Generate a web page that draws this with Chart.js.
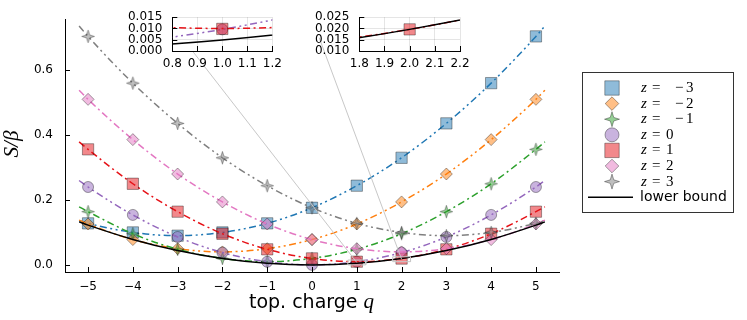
<!DOCTYPE html>
<html><head><meta charset="utf-8">
<script src="https://cdn.jsdelivr.net/npm/chart.js@4.4.1/dist/chart.umd.min.js"></script>
<style>
html,body{margin:0;padding:0;background:#fff;}
#wrap{position:relative;width:747px;height:320px;overflow:hidden;}
canvas{position:absolute;top:0;}
</style></head><body>
<div id="wrap">
<canvas id="main" width="747" height="320" style="left:0;width:747px;height:320px"></canvas>
<canvas id="inset1" width="190" height="80" style="left:100px;width:190px;height:80px"></canvas>
<canvas id="inset2" width="190" height="80" style="left:290px;width:190px;height:80px"></canvas>
</div>
<script>
// ---------------- data ----------------
const qValues = [-5, -4, -3, -2, -1, 0, 1, 2, 3, 4, 5];
const zValues = [-3, -2, -1, 0, 1, 2, 3];
const S_zm3 = [0.128, 0.100, 0.090, 0.100, 0.128, 0.176, 0.244, 0.330, 0.436, 0.560, 0.704];
const S_zm2 = [0.126, 0.078, 0.050, 0.040, 0.050, 0.078, 0.126, 0.194, 0.280, 0.386, 0.510];
const S_zm1 = [0.164, 0.096, 0.048, 0.020, 0.010, 0.020, 0.048, 0.096, 0.164, 0.250, 0.356];
const S_z0  = [0.240, 0.154, 0.086, 0.038, 0.0096, 0.000, 0.0096, 0.038, 0.086, 0.154, 0.240];
const S_z1  = [0.356, 0.250, 0.164, 0.096, 0.048, 0.020, 0.0098, 0.0196, 0.048, 0.096, 0.164];
const S_z2  = [0.510, 0.386, 0.280, 0.194, 0.126, 0.078, 0.050, 0.040, 0.050, 0.078, 0.126];
const S_z3  = [0.704, 0.560, 0.436, 0.330, 0.244, 0.176, 0.128, 0.100, 0.090, 0.100, 0.128];
// fitted curves: values at q = -5.2 ... 5.2
const curveQ = [-5.2, -5, -4, -3, -2, -1, 0, 1, 2, 3, 4, 5, 5.2];
const curveZm3 = [0.136, 0.128, 0.100, 0.090, 0.100, 0.128, 0.176, 0.244, 0.330, 0.436, 0.560, 0.704, 0.736];
const curveZm2 = [0.138, 0.126, 0.078, 0.050, 0.040, 0.050, 0.078, 0.126, 0.194, 0.280, 0.386, 0.510, 0.538];
const curveZm1 = [0.179, 0.164, 0.096, 0.048, 0.020, 0.010, 0.020, 0.048, 0.096, 0.164, 0.250, 0.356, 0.379];
const curveZ0  = [0.260, 0.240, 0.154, 0.086, 0.038, 0.0096, 0.000, 0.0096, 0.038, 0.086, 0.154, 0.240, 0.260];
const curveZ1  = [0.379, 0.356, 0.250, 0.164, 0.096, 0.048, 0.0196, 0.0100, 0.0196, 0.048, 0.096, 0.164, 0.179];
const curveZ2  = [0.538, 0.510, 0.386, 0.280, 0.194, 0.126, 0.078, 0.050, 0.040, 0.050, 0.078, 0.126, 0.138];
const curveZ3  = [0.736, 0.704, 0.560, 0.436, 0.330, 0.244, 0.176, 0.128, 0.100, 0.090, 0.100, 0.128, 0.136];
const lowerBound = [0.1325, 0.1225, 0.0784, 0.0441, 0.0196, 0.0049, 0.000, 0.0049, 0.0196, 0.0441, 0.0784, 0.1225, 0.1325];
// tick labels
const mainXTicks = [-5, -4, -3, -2, -1, 0, 1, 2, 3, 4, 5];
const mainXTickLabels = ['\u22125', '\u22124', '\u22123', '\u22122', '\u22121', '0', '1', '2', '3', '4', '5'];
const mainYTicks = [0, 0.2, 0.4, 0.6];
const mainYTickLabels = ['0.0', '0.2', '0.4', '0.6'];
const inset1XTicks = [0.8, 0.9, 1.0, 1.1, 1.2];
const inset1XTickLabels = ['0.8', '0.9', '1.0', '1.1', '1.2'];
const inset1YTicks = [0, 0.005, 0.010, 0.015];
const inset1YTickLabels = ['0.000', '0.005', '0.010', '0.015'];
const inset2XTicks = [1.8, 1.9, 2.0, 2.1, 2.2];
const inset2XTickLabels = ['1.8', '1.9', '2.0', '2.1', '2.2'];
const inset2YTicks = [0.010, 0.015, 0.020, 0.025];
const inset2YTickLabels = ['0.010', '0.015', '0.020', '0.025'];
// lens regions (zoomed windows) and connector targets
const lens1X = [0.8, 1.2], lens1Y = [0.0, 0.015];
const lens2X = [1.8, 2.2], lens2Y = [0.010, 0.025];
const connector1 = [[1.0, 0.0075], [-2.9, 0.70]];
const connector2 = [[2.0, 0.0175], [0.16, 0.70]];

// ---------------- styles ----------------
const seriesVals = [S_zm3, S_zm2, S_zm1, S_z0, S_z1, S_z2, S_z3];
const curveVals = [curveZm3, curveZm2, curveZm1, curveZ0, curveZ1, curveZ2, curveZ3];
const rgb = [[31,119,180],[255,127,14],[44,160,44],[148,103,189],[230,18,24],[227,119,194],[127,127,127]];
const shapes = ['square','diamond','star','circle','square','diamond','star'];
const DASHDOT = [7,3.5,2,3.5];
const DASHDOTDOT = [7,3.5,2,3.5,2,3.5];
const dashes = [DASHDOTDOT, DASHDOTDOT, DASHDOT, DASHDOTDOT, DASHDOT, DASHDOT, DASHDOTDOT];
const col = (c,a)=> a===undefined ? `rgb(${c[0]},${c[1]},${c[2]})` : `rgba(${c[0]},${c[1]},${c[2]},${a})`;
const FILL_A = 0.5, STROKE = 'rgba(0,0,0,0.35)';

function starPath(ctx, cx, cy, R, r){
  ctx.beginPath();
  for(let k=0;k<8;k++){
    const ang = -Math.PI/2 + k*Math.PI/4;
    const rad = (k%2===0) ? R : r;
    const px = cx + rad*Math.cos(ang), py = cy + rad*Math.sin(ang);
    if(k===0) ctx.moveTo(px,py); else ctx.lineTo(px,py);
  }
  ctx.closePath();
}
function makeStar(c, R, r){
  const cv = document.createElement('canvas');
  const s = Math.ceil(2*R+4); cv.width = s; cv.height = s;
  const x = cv.getContext('2d');
  starPath(x, s/2, s/2, R, r);
  x.fillStyle = col(c, FILL_A); x.fill();
  x.strokeStyle = STROKE; x.lineWidth = 1; x.stroke();
  return cv;
}
const starImgs = {2: makeStar(rgb[2], 6.3, 2.1), 6: makeStar(rgb[6], 6.3, 2.1)};
function pointOpts(i){
  const s = shapes[i];
  if(s==='square') return {pointStyle:'rect', pointRadius:8};
  if(s==='diamond') return {pointStyle:'rectRot', pointRadius:6};
  if(s==='circle') return {pointStyle:'circle', pointRadius:5.5};
  return {pointStyle: starImgs[i], pointRadius:6};
}

function buildDatasets(isMain){
  const ds = []; let ord = 1000;
  seriesVals.forEach((vals, i)=>{
    ds.push({
      data: curveQ.map((q,j)=>({x:q, y:curveVals[i][j]})),
      showLine:true, borderColor: col(rgb[i]), borderWidth:1.5, borderDash: dashes[i],
      pointRadius:0, cubicInterpolationMode:'monotone', fill:false, order: ord--
    });
    ds.push(Object.assign({
      data: qValues.map((q,j)=>({x:q, y:vals[j]})),
      showLine:false, pointBackgroundColor: col(rgb[i], FILL_A), pointBorderColor: STROKE,
      pointBorderWidth:1, order: ord--
    }, pointOpts(i)));
  });
  ds.push({
    data: curveQ.map((q,j)=>({x:q, y:lowerBound[j]})),
    showLine:true, borderColor:'#000', borderWidth:1.5, pointRadius:0,
    cubicInterpolationMode:'monotone', fill:false, order: ord--
  });
  if(isMain){
    [[lens1X,lens1Y],[lens2X,lens2Y]].forEach(([lx,ly])=>{
      ds.push({data:[{x:lx[0],y:ly[0]},{x:lx[0],y:ly[1]},{x:lx[1],y:ly[1]},{x:lx[1],y:ly[0]},{x:lx[0],y:ly[0]}],
        showLine:true, borderColor:'#c8c8c8', borderWidth:1, pointRadius:0, tension:0, fill:false, order: ord--});
    });
    [connector1, connector2].forEach(cn=>{
      ds.push({data: cn.map(p=>({x:p[0], y:p[1]})), showLine:true, borderColor:'#c8c8c8',
        borderWidth:1, pointRadius:0, tension:0, fill:false, order: ord--});
    });
  }
  return ds;
}

const TICKFONT = {family:'DejaVu Sans', size:12};

const bgPlugin = {
  id:'bg',
  beforeDraw(chart, args, opts){
    const ctx = chart.ctx, a = chart.chartArea;
    ctx.save(); ctx.fillStyle = '#fff';
    if(opts.full) ctx.fillRect(0,0,chart.width,chart.height);
    else ctx.fillRect(a.left, a.top, a.right-a.left, a.bottom-a.top);
    ctx.restore();
  }
};
const innerTicks = {
  id:'innerTicks',
  afterDraw(chart){
    const ctx = chart.ctx, a = chart.chartArea, L = 5;
    const xs = chart.scales.x, ys = chart.scales.y;
    ctx.save(); ctx.strokeStyle = '#000'; ctx.lineWidth = 1;
    ctx.beginPath();
    xs.ticks.forEach(t=>{ const p = Math.round(xs.getPixelForValue(t.value))+0.5; ctx.moveTo(p, a.bottom); ctx.lineTo(p, a.bottom-L); });
    ys.ticks.forEach(t=>{ const p = Math.round(ys.getPixelForValue(t.value))+0.5; ctx.moveTo(a.left, p); ctx.lineTo(a.left+L, p); });
    ctx.stroke(); ctx.restore();
  }
};

function drawMarker(ctx, i, x, y, scale){
  const s = shapes[i];
  ctx.save();
  ctx.fillStyle = col(rgb[i], FILL_A); ctx.strokeStyle = STROKE; ctx.lineWidth = 1;
  ctx.beginPath();
  if(s==='square'){ const h = 7.2*scale; ctx.rect(x-h, y-h, 2*h, 2*h); }
  else if(s==='diamond'){ const h = 6.8*scale; ctx.moveTo(x-h,y); ctx.lineTo(x,y-h); ctx.lineTo(x+h,y); ctx.lineTo(x,y+h); ctx.closePath(); }
  else if(s==='circle'){ ctx.arc(x, y, 7*scale, 0, Math.PI*2); }
  else { starPath(ctx, x, y, 7.5*scale, 2.5*scale); }
  ctx.fill(); ctx.stroke();
  ctx.restore();
}

const mainDecor = {
  id:'mainDecor',
  afterDraw(chart){
    const ctx = chart.ctx;
    ctx.save();
    // x title
    const t1 = 'top. charge ', t2 = 'q';
    ctx.textBaseline = 'alphabetic'; ctx.fillStyle = '#000';
    ctx.font = '19px "DejaVu Sans"'; const w1 = ctx.measureText(t1).width;
    ctx.font = 'italic 21px "Liberation Serif"'; const w2 = ctx.measureText(t2).width;
    const x0 = 311.5 - (w1+w2)/2;
    ctx.font = '19px "DejaVu Sans"'; ctx.fillText(t1, x0, 308);
    ctx.font = 'italic 21px "Liberation Serif"'; ctx.fillText(t2, x0+w1, 308);
    // y title
    ctx.save(); ctx.translate(18, 144); ctx.rotate(-Math.PI/2);
    ctx.font = 'italic 21px "Liberation Serif"'; ctx.textAlign = 'center';
    ctx.fillText('S/\u03B2', 0, 0);
    ctx.restore();
    // legend
    ctx.fillStyle = '#fff'; ctx.fillRect(582.5, 72.5, 151, 140);
    ctx.strokeStyle = '#333'; ctx.lineWidth = 1; ctx.strokeRect(582.5, 72.5, 151, 140);
    const y0 = 88, dy = 15.6;
    zValues.forEach((z, i)=>{
      const y = y0 + i*dy;
      drawMarker(ctx, i, 612, y, 1);
      ctx.fillStyle = '#000'; ctx.textBaseline = 'middle'; ctx.textAlign = 'left';
      ctx.font = 'italic 15px "Liberation Serif"'; ctx.fillText('z', 641, y);
      ctx.font = '15px "Liberation Serif"'; ctx.fillText('=', 652, y);
      if(z < 0){ ctx.fillText('\u2212', 675, y); ctx.fillText(String(-z), 686, y); }
      else ctx.fillText(String(z), 666, y);
    });
    const yl = y0 + 7*dy;
    ctx.strokeStyle = '#000'; ctx.lineWidth = 1.5;
    ctx.beginPath(); ctx.moveTo(588, yl); ctx.lineTo(633, yl); ctx.stroke();
    ctx.fillStyle = '#000'; ctx.font = '14px "DejaVu Sans"'; ctx.textBaseline = 'middle';
    ctx.fillText('lower bound', 640, yl);
    ctx.restore();
  }
};

function axisCfg(o){
  return {
    type:'linear', min:o.min, max:o.max,
    afterFit: o.fit,
    afterBuildTicks: s => { s.ticks = o.ticks.map(v=>({value:v})); },
    ticks:{ autoSkip:false, maxRotation:0, minRotation:0, padding:o.pad, font:TICKFONT, color:'#000',
      callback:(v, idx)=> o.labels[idx] },
    grid:{ display:o.grid, drawTicks:false, color:'rgba(0,0,0,0.1)', lineWidth:1 },
    border:{ display:true, color:'#000', width:1 }
  };
}

new Chart(document.getElementById('main'), {
  type:'line',
  data:{ datasets: buildDatasets(true) },
  options:{
    responsive:false, animation:false, devicePixelRatio:1,
    layout:{ padding:{ left:0, top:12.5, right:188, bottom:0 } },
    elements:{ line:{ capBezierPoints:false } },
    plugins:{ legend:{display:false}, tooltip:{enabled:false}, bg:{full:true} },
    scales:{
      x: axisCfg({min:-5.515, max:5.515, ticks:mainXTicks, labels:mainXTickLabels, pad:8, grid:false, fit:s=>{s.height=48;}}),
      y: axisCfg({min:-0.0219, max:0.757, ticks:mainYTicks, labels:mainYTickLabels, pad:12, grid:false, fit:s=>{s.width=65;}})
    }
  },
  plugins:[bgPlugin, innerTicks, mainDecor]
});

function makeInset(id, xr, yr, xt, xl, yt, yl, yw, padR){
  new Chart(document.getElementById(id), {
    type:'line',
    data:{ datasets: buildDatasets(false) },
    options:{
      responsive:false, animation:false, devicePixelRatio:1,
      layout:{ padding:{ left:0, top:12.7, right:padR, bottom:0 } },
      elements:{ line:{ capBezierPoints:false } },
      plugins:{ legend:{display:false}, tooltip:{enabled:false}, bg:{full:false} },
      scales:{
        x: axisCfg({min:xr[0], max:xr[1], ticks:xt, labels:xl, pad:6, grid:true, fit:s=>{s.height=29;}}),
        y: axisCfg({min:yr[0], max:yr[1], ticks:yt, labels:yl, pad:10, grid:true, fit:s=>{s.width=yw;}})
      }
    },
    plugins:[bgPlugin, innerTicks]
  });
}
makeInset('inset1', lens1X, lens1Y, inset1XTicks, inset1XTickLabels, inset1YTicks, inset1YTickLabels, 72.3, 17.7);
makeInset('inset2', lens2X, lens2Y, inset2XTicks, inset2XTickLabels, inset2YTicks, inset2YTickLabels, 69.3, 20);
</script>
</body></html>
